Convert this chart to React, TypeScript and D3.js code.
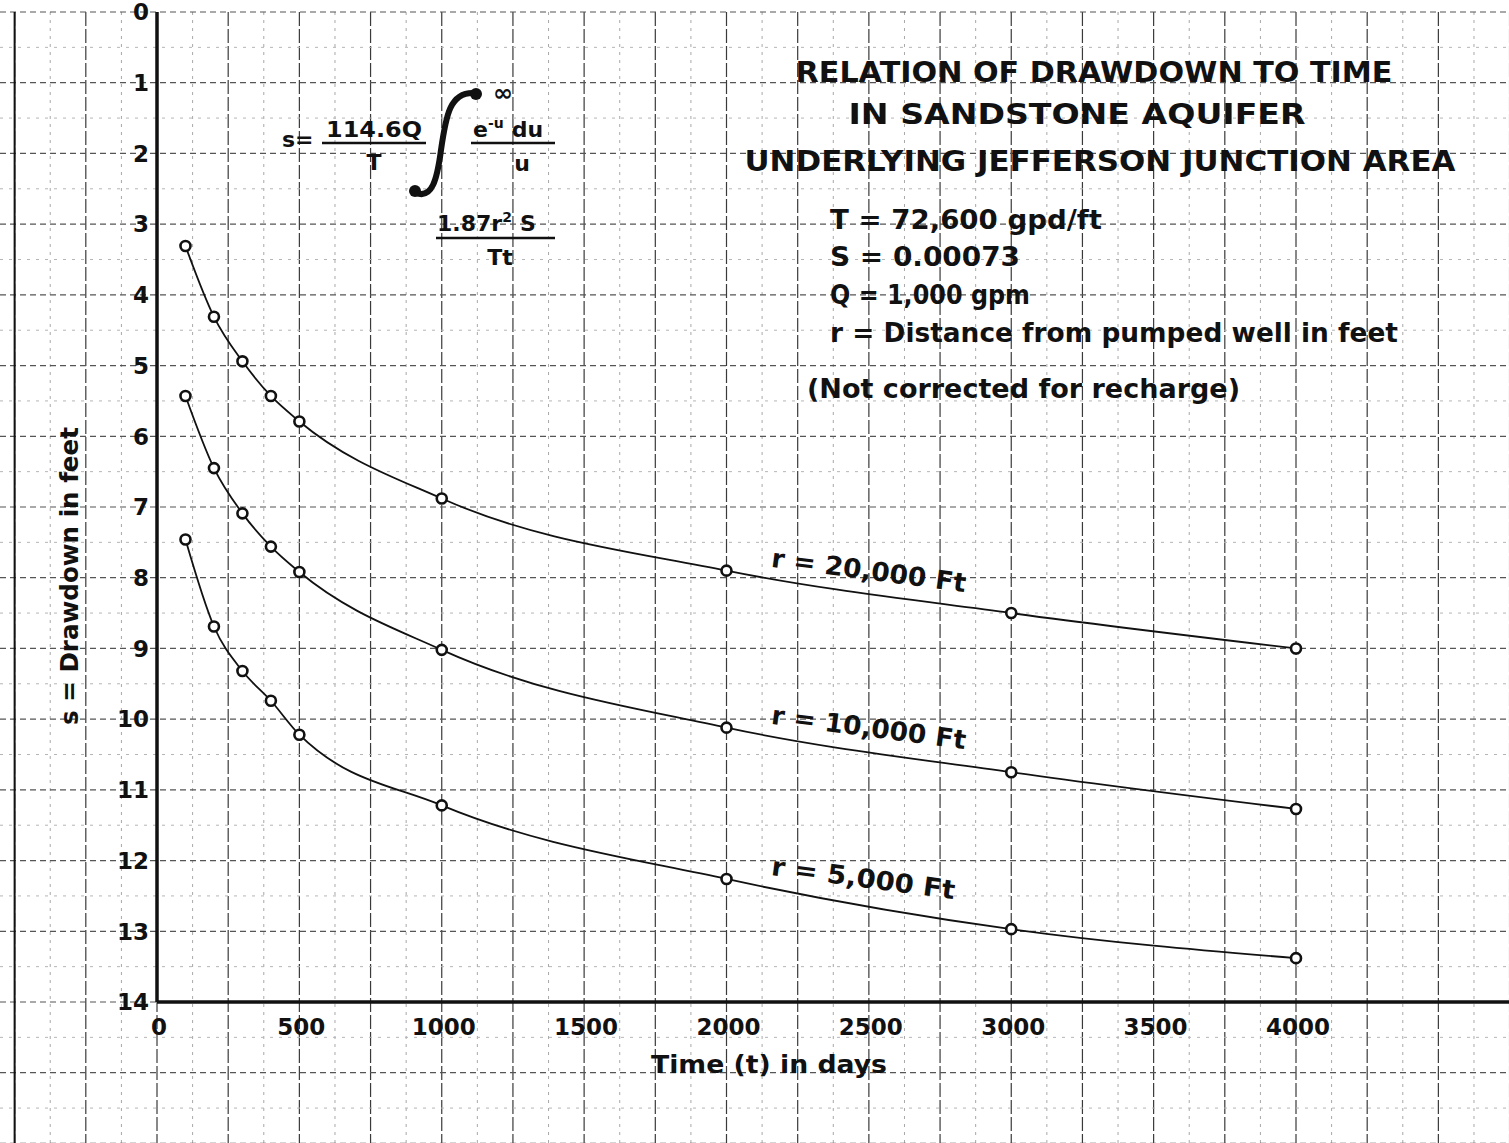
import React, { useEffect, useRef } from "react"
import * as d3 from "d3"

// Time in days, values
const times = [100, 200, 300, 400, 500, 1000, 2000, 3000, 4000]
const drawdown20000 = [3.31, 4.31, 4.94, 5.43, 5.79, 6.88, 7.9, 8.5, 9.0]
const drawdown10000 = [5.43, 6.45, 7.09, 7.56, 7.92, 9.02, 10.12, 10.75, 11.27]
const drawdown5000 = [7.46, 8.69, 9.32, 9.74, 10.22, 11.22, 12.26, 12.97, 13.38]
const seriesLabels = ["r = 20,000 Ft", "r = 10,000 Ft", "r = 5,000 Ft"]

const xTicks = [0, 500, 1000, 1500, 2000, 2500, 3000, 3500, 4000]
const yTicks = [0, 1, 2, 3, 4, 5, 6, 7, 8, 9, 10, 11, 12, 13, 14]

const titleLines = [
	"RELATION OF DRAWDOWN TO TIME",
	"IN SANDSTONE AQUIFER",
	"UNDERLYING JEFFERSON JUNCTION AREA",
]
const paramLines = [
	"T = 72,600 gpd/ft",
	"S = 0.00073",
	"Q = 1,000 gpm",
	"r = Distance from pumped well in feet",
]
const noteLine = "(Not corrected for recharge)"

const W = 1509
const H = 1143
const FONT = "'DejaVu Sans', 'Liberation Sans', sans-serif"
const INK = "#111"

const App = () => {
	const ref = useRef<SVGSVGElement>(null)

	useEffect(() => {
		const svg = d3.select(ref.current)
		svg.selectAll("*").remove()

		// scales: 250 days and 1 ft share the same grid square
		const x = d3.scaleLinear().domain([0, 4000]).range([157, 1296])
		const y = d3.scaleLinear().domain([0, 14]).range([12, 1002])

		svg.append("rect").attr("width", W).attr("height", H).attr("fill", "#fff")

		// graph paper
		const grid = svg.append("g")
		for (let t = -500; x(t) <= W + 1; t += 125) {
			const major = t % 250 === 0
			grid
				.append("line")
				.attr("x1", x(t))
				.attr("x2", x(t))
				.attr("y1", y(0))
				.attr("y2", H)
				.attr("stroke", major ? "#3a3a3a" : "#a8a8a8")
				.attr("stroke-width", major ? 1.2 : 1)
				.attr("stroke-dasharray", major ? "14 3" : "3 5")
		}
		for (let s = 0; y(s) <= H + 1; s += 0.5) {
			const major = s % 1 === 0
			grid
				.append("line")
				.attr("x1", 0)
				.attr("x2", W)
				.attr("y1", y(s))
				.attr("y2", y(s))
				.attr("stroke", major ? "#555" : "#b5b5b5")
				.attr("stroke-width", major ? 1.2 : 1)
				.attr("stroke-dasharray", major ? "6 4" : "3 6")
		}
		// heavier left edge line of the sheet
		grid
			.append("line")
			.attr("x1", x(-500))
			.attr("x2", x(-500))
			.attr("y1", y(0))
			.attr("y2", H)
			.attr("stroke", INK)
			.attr("stroke-width", 2)

		// axes
		svg
			.append("line")
			.attr("x1", x(0))
			.attr("x2", x(0))
			.attr("y1", y(0))
			.attr("y2", y(14))
			.attr("stroke", INK)
			.attr("stroke-width", 3.5)
		svg
			.append("line")
			.attr("x1", x(0))
			.attr("x2", W)
			.attr("y1", y(14))
			.attr("y2", y(14))
			.attr("stroke", INK)
			.attr("stroke-width", 3.5)

		// tick labels
		svg
			.append("g")
			.selectAll("text")
			.data(yTicks)
			.join("text")
			.attr("x", x(0) - 8)
			.attr("y", d => y(d))
			.attr("dy", "0.36em")
			.attr("text-anchor", "end")
			.style("font-family", FONT)
			.style("font-weight", "bold")
			.style("font-size", "23px")
			.attr("fill", INK)
			.text(d => d)

		svg
			.append("g")
			.selectAll("text")
			.data(xTicks)
			.join("text")
			.attr("x", d => x(d) + 2)
			.attr("y", y(14) + 33)
			.attr("text-anchor", "middle")
			.style("font-family", FONT)
			.style("font-weight", "bold")
			.style("font-size", "23px")
			.attr("fill", INK)
			.text(d => d)

		// axis titles
		svg
			.append("text")
			.attr("x", 769)
			.attr("y", 1073)
			.attr("text-anchor", "middle")
			.attr("textLength", 236)
			.attr("lengthAdjust", "spacingAndGlyphs")
			.style("font-family", FONT)
			.style("font-weight", "bold")
			.style("font-size", "25px")
			.attr("fill", INK)
			.text("Time (t) in days")

		svg
			.append("text")
			.attr("transform", "translate(78,576) rotate(-90)")
			.attr("text-anchor", "middle")
			.attr("textLength", 298)
			.attr("lengthAdjust", "spacingAndGlyphs")
			.style("font-family", FONT)
			.style("font-weight", "bold")
			.style("font-size", "24px")
			.attr("fill", INK)
			.text("s = Drawdown in feet")

		// curves
		const series = [drawdown20000, drawdown10000, drawdown5000]
		const line = d3
			.line<number>()
			.x((_, i) => x(times[i]))
			.y(d => y(d))
			.curve(d3.curveMonotoneX)

		series.forEach((values, k) => {
			const g = svg.append("g")
			g.append("path")
				.attr("d", line(values))
				.attr("fill", "none")
				.attr("stroke", INK)
				.attr("stroke-width", 1.8)
			g.selectAll("circle")
				.data(values)
				.join("circle")
				.attr("cx", (_, i) => x(times[i]))
				.attr("cy", d => y(d))
				.attr("r", 5)
				.attr("fill", "#fff")
				.attr("stroke", INK)
				.attr("stroke-width", 2.6)

			// curve label sits just past the 2000-day point
			const lx = x(2000) + 44
			const ly = y(values[6]) - 4
			g.append("text")
				.attr("transform", `translate(${lx},${ly}) rotate(7.5)`)
				.attr("textLength", k === 2 ? 185 : 196)
				.attr("lengthAdjust", "spacingAndGlyphs")
				.style("font-family", FONT)
				.style("font-weight", "bold")
				.style("font-size", "26px")
				.attr("fill", INK)
				.text(seriesLabels[k])
		})

		// title and parameters
		const titleBox = [
			{ cx: 1094, base: 82, len: 597 },
			{ cx: 1077, base: 124, len: 457 },
			{ cx: 1100, base: 171, len: 711 },
		]
		titleLines.forEach((t, i) => {
			svg
				.append("text")
				.attr("x", titleBox[i].cx)
				.attr("y", titleBox[i].base)
				.attr("text-anchor", "middle")
				.attr("textLength", titleBox[i].len)
				.attr("lengthAdjust", "spacingAndGlyphs")
				.style("font-family", FONT)
				.style("font-weight", "bold")
				.style("font-size", "29px")
				.attr("fill", INK)
				.text(t)
		})

		const paramBox = [
			{ base: 229, len: 272 },
			{ base: 266, len: 190 },
			{ base: 304, len: 200 },
			{ base: 342, len: 568 },
		]
		paramLines.forEach((t, i) => {
			svg
				.append("text")
				.attr("x", 830)
				.attr("y", paramBox[i].base)
				.attr("textLength", paramBox[i].len)
				.attr("lengthAdjust", "spacingAndGlyphs")
				.style("font-family", FONT)
				.style("font-weight", "bold")
				.style("font-size", "26px")
				.attr("fill", INK)
				.text(t)
		})
		svg
			.append("text")
			.attr("x", 807)
			.attr("y", 398)
			.attr("textLength", 433)
			.attr("lengthAdjust", "spacingAndGlyphs")
			.style("font-family", FONT)
			.style("font-weight", "bold")
			.style("font-size", "26px")
			.attr("fill", INK)
			.text(noteLine)

		// Theis formula
		const f = svg
			.append("g")
			.style("font-family", FONT)
			.style("font-weight", "bold")
			.attr("fill", INK)
		const ftext = (tx: number, ty: number, size: number, txt: string, anchor = "start") =>
			f
				.append("text")
				.attr("x", tx)
				.attr("y", ty)
				.attr("text-anchor", anchor)
				.style("font-size", `${size}px`)
				.text(txt)
		const bar = (x1: number, x2: number, yy: number) =>
			f
				.append("line")
				.attr("x1", x1)
				.attr("x2", x2)
				.attr("y1", yy)
				.attr("y2", yy)
				.attr("stroke", INK)
				.attr("stroke-width", 2.5)

		ftext(282, 147, 22, "s=")
		ftext(374, 137, 22, "114.6Q", "middle").attr("textLength", 96).attr("lengthAdjust", "spacingAndGlyphs")
		bar(322, 426, 143)
		ftext(374, 170, 22, "T", "middle")

		f.append("path")
			.attr("d", "M416,193 C432,199 437,180 441,150 C446,115 450,92 474,93")
			.attr("fill", "none")
			.attr("stroke", INK)
			.attr("stroke-width", 6)
			.attr("stroke-linecap", "round")
		f.append("circle").attr("cx", 415).attr("cy", 191).attr("r", 6)
		f.append("circle").attr("cx", 476).attr("cy", 94).attr("r", 6)

		ftext(503, 101, 24, "\u221e", "middle")
		const num = ftext(473, 137, 22, "e")
		num.append("tspan").attr("dy", -9).style("font-size", "14px").text("-u")
		num.append("tspan").attr("dy", 9).attr("dx", 8).text("du")
		bar(471, 555, 143)
		ftext(522, 171, 22, "u", "middle")

		const low = ftext(437, 231, 22, "1.87r")
		low.append("tspan").attr("dy", -9).style("font-size", "14px").text("2")
		low.append("tspan").attr("dy", 9).attr("dx", 8).text("S")
		bar(436, 555, 238)
		ftext(500, 265, 22, "Tt", "middle")
	}, [])

	return (
		<svg
			ref={ref}
			width={W}
			height={H}
			style={{ position: "absolute", left: 0, top: 0, background: "#fff" }}
		/>
	)
}

export default App
